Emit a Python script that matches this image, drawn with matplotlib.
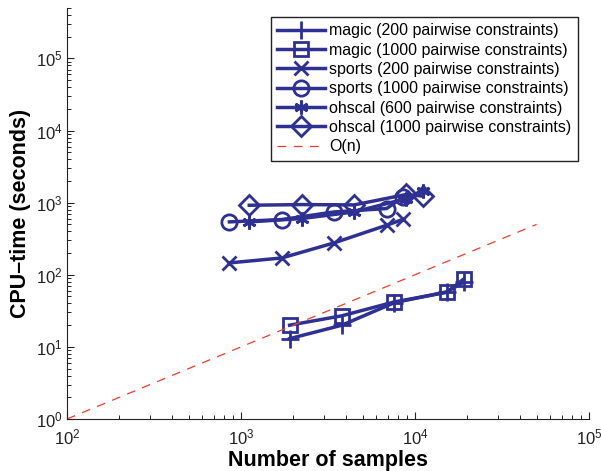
import matplotlib
matplotlib.use("Agg")
import matplotlib.pyplot as plt

# data
x_magic = [1902, 3804, 7608, 15216, 19020]
t_magic_200 = [13, 20, 41, 58, 79]
t_magic_1000 = [20, 27, 42, 57, 87]
x_sports = [858, 1716, 3432, 6864, 8580]
t_sports_200 = [146, 171, 277, 486, 589]
t_sports_1000 = [541, 583, 743, 829, 1200]
x_ohscal = [1116, 2232, 4465, 8930, 11162]
t_ohscal_600 = [541, 602, 743, 1140, 1450]
t_ohscal_1000 = [920, 940, 930, 1300, 1230]
x_on = [100, 50000]
t_on = [1, 500]

plt.rcParams['font.family'] = ['Liberation Sans', 'DejaVu Sans']

AZUL = '#2e3192'
VERMELHO = '#f03c2e'

fig = plt.figure(figsize=(6.01, 4.71), dpi=100)
ax = fig.add_axes([67 / 601, 1 - 419 / 471, (589 - 67) / 601, (419 - 8) / 471])

estilo = dict(color=AZUL, linewidth=2.5, markersize=10, markeredgewidth=2.0,
              markerfacecolor='none', markeredgecolor=AZUL)

ax.plot(x_magic, t_magic_200, marker='+', label='magic (200 pairwise constraints)',
        **{**estilo, 'markersize': 13})
ax.plot(x_magic, t_magic_1000, marker='s', label='magic (1000 pairwise constraints)', **estilo)
ax.plot(x_sports, t_sports_200, marker='x', label='sports (200 pairwise constraints)', **estilo)
ax.plot(x_sports, t_sports_1000, marker='o', label='sports (1000 pairwise constraints)',
        **{**estilo, 'markersize': 11})
ax.plot(x_ohscal, t_ohscal_600, marker=(6, 2, 0), label='ohscal (600 pairwise constraints)', **estilo)
ax.plot(x_ohscal, t_ohscal_1000, marker='D', label='ohscal (1000 pairwise constraints)',
        **{**estilo, 'markersize': 10})
ax.plot(x_on, t_on, color=VERMELHO, linestyle=(0, (7, 6)), linewidth=0.9, label='O(n)')

ax.set_xscale('log')
ax.set_yscale('log')
ax.set_xlim(1e2, 1e5)
ax.set_ylim(1, 5e5)

for lado in ['top', 'right']:
    ax.spines[lado].set_visible(False)
for lado in ['left', 'bottom']:
    ax.spines[lado].set_color('#222222')
    ax.spines[lado].set_linewidth(0.8)

ax.tick_params(which='major', direction='in', length=5, width=0.8, labelsize=12,
               colors='#222222')
ax.tick_params(which='minor', direction='in', length=3, width=0.7, colors='#222222')
ax.tick_params(axis='x', pad=6)
ax.tick_params(axis='y', pad=3)

ax.set_xlabel('Number of samples', fontsize=15.5, fontweight='bold', labelpad=2)
ax.set_ylabel('CPU–time (seconds)', fontsize=15.5, fontweight='bold', labelpad=4)

leg = ax.legend(loc='upper right', bbox_to_anchor=(578 / 601, 1 - 17 / 471),
                bbox_transform=fig.transFigure, borderaxespad=0, fontsize=11.5,
                numpoints=1, handlelength=3.0, handletextpad=0.25, labelspacing=0.27,
                borderpad=0.4, fancybox=False, framealpha=1)
leg.get_frame().set_edgecolor('#222222')
leg.get_frame().set_linewidth(1.0)

plt.savefig('out.png', dpi=100)
